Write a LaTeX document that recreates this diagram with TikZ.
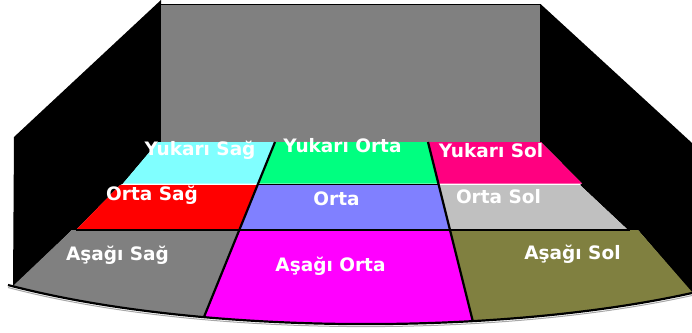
\documentclass[tikz,border=0pt]{standalone}
\usepackage{fontspec}
\newfontfamily\lblfont{DejaVu Sans}
\definecolor{wallgray}{HTML}{808080}
\definecolor{cyanc}{HTML}{80FFFF}
\definecolor{greenc}{HTML}{00FF80}
\definecolor{pinkc}{HTML}{FF0080}
\definecolor{redc}{HTML}{FF0000}
\definecolor{peric}{HTML}{8080FF}
\definecolor{lgrayc}{HTML}{C0C0C0}
\definecolor{grayc}{HTML}{808080}
\definecolor{magc}{HTML}{FF00FF}
\definecolor{olivec}{HTML}{808040}
\definecolor{shadowc}{HTML}{A8A8A8}
\tikzset{
  lbl/.style={text=white, font=\lblfont\bfseries\fontsize{18.5}{20}\selectfont, inner sep=0pt, anchor=base},
  sepline/.style={draw=black, line width=2.2pt},
  thinsep/.style={draw=black, line width=1pt},
}
\begin{document}
\begin{tikzpicture}[x=1pt,y=-1pt]
\useasboundingbox (0,0) rectangle (692,332);
% walls
\fill[black] (161,0) -- (14,137) -- (13,287) -- (72,230) -- (76,230) -- (120,185) -- (123,183.5) -- (158,142) -- (162,142) -- cycle;
\fill[black] (540.5,4) -- (692,143) -- (692,293) -- (638,230) -- (628,230) -- (580,185) -- (582,183.5) -- (541,142) -- cycle;
\fill[wallgray] (161,5) rectangle (541,141.5);
\draw[black, line width=1pt] (160.5,4.5) -- (540.5,4.5) -- (540.5,141.5);
% row 1
\fill[cyanc] (158,142) -- (275,142) -- (258.2,183.5) -- (123,183.5) -- cycle;
\fill[greenc] (275,142) -- (428,142) -- (438.4,183.5) -- (258.2,183.5) -- cycle;
\fill[pinkc] (428,142) -- (541,142) -- (582,183.5) -- (438.4,183.5) -- cycle;
% row 2
\fill[redc] (120,185) -- (257.6,185) -- (239.3,230) -- (76,230) -- cycle;
\fill[peric] (257.6,185) -- (438.75,185) -- (450,230) -- (239.3,230) -- cycle;
\fill[lgrayc] (438.75,185) -- (580,185) -- (628,230) -- (450,230) -- cycle;
% row 3
\fill[grayc] (72,230) -- (239.3,230) -- (198.7,330) -- (13,330) -- (13,286) -- cycle;
\fill[magc] (239.3,230) -- (450,230) -- (475,330) -- (198.7,330) -- cycle;
\fill[olivec] (450,230) -- (638,230) -- (692,292) -- (692,330) -- (475,330) -- cycle;
% separators
\draw[sepline] (275,142) -- (198.7,330);
\draw[sepline] (428,142) -- (475,330);
\draw[sepline] (76,230) -- (630,230);
\draw[thinsep] (258,184.2) -- (438.6,184.2);
% white below floor
\fill[white] (8,285) .. controls (200,335.7) and (500,335.7) .. (692,293) -- (692,332) -- (0,332) -- (0,285) -- cycle;
\draw[shadowc, line width=1pt] (8,287.5) .. controls (200,338.2) and (500,338.2) .. (692,295.5);
\draw[black, line width=2.2pt] (8,285) .. controls (200,335.7) and (500,335.7) .. (692,293);
% labels
\node[lbl] (ys) at (200,155) {Yukarı Sağ};
\node[lbl] (yo) at (342.5,152.7) {Yukarı Orta};
\node[lbl] (yl) at (491,157.3) {Yukarı Sol};
\node[lbl] (os) at (152,200) {Orta Sağ};
\node[lbl] (oo) at (336.5,205.3) {Orta};
\node[lbl] (ol) at (498.5,203.3) {Orta Sol};
\node[lbl] (as) at (117.5,260) {Aşağı Sağ};
\node[lbl] (ao) at (330.5,271.7) {Aşağı Orta};
\node[lbl] (al) at (572.5,259.3) {Aşağı Sol};
\end{tikzpicture}
\end{document}
